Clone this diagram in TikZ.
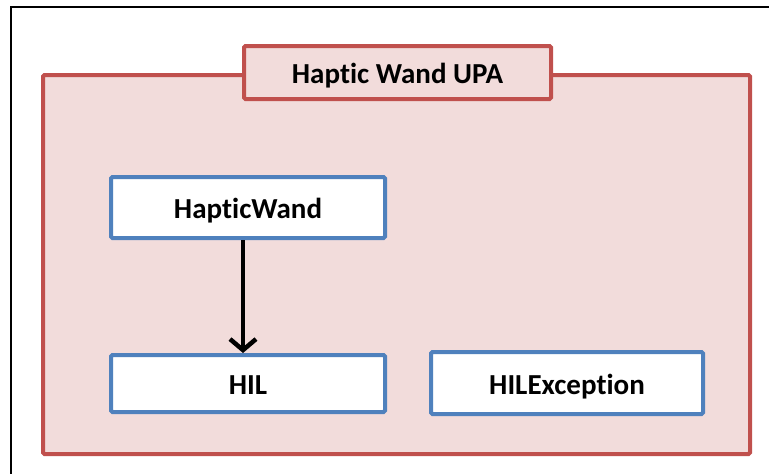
\documentclass[tikz,border=0pt]{standalone}
\usepackage{fontspec}
\setmainfont{Carlito}[Ligatures=NoCommon]
\usetikzlibrary{arrows.meta}
\definecolor{upared}{HTML}{C0504D}
\definecolor{upafill}{HTML}{F2DCDB}
\definecolor{clsblue}{HTML}{4F81BD}
\tikzset{
    upabox/.style={draw=upared, fill=upafill, line width=4pt, rounded corners=1.5pt},
    clsbox/.style={draw=clsblue, fill=white, line width=4pt, rounded corners=1.5pt,
        font=\fontsize{29}{34}\selectfont\bfseries, inner sep=0pt,
        text height=22pt, text depth=0pt}
}
\begin{document}
\begin{tikzpicture}[x=1pt, y=-1pt, >={Straight Barb[length=11pt,width=26pt]}]
    \useasboundingbox (0,0) rectangle (769,474);
    \draw[line width=2.5pt] (11,476)--(11,7)--(771,7);
    % package container
    \draw[upabox] (43,75) rectangle (750,454);
    \node[upabox, minimum width=307pt, minimum height=53pt, inner sep=0pt,
        text height=22pt, text depth=0pt,
        font=\fontsize{29}{34}\selectfont\bfseries] (title) at (397.5,72.5) {Haptic Wand UPA};
    % classes
    \node[clsbox, minimum width=274pt, minimum height=61pt] (wand) at (248,207.5) {HapticWand};
    \node[clsbox, minimum width=274pt, minimum height=57pt] (hil) at (248,383.5) {HIL};
    \node[clsbox, minimum width=272pt, minimum height=62pt] (hilexc) at (567,383) {HILException};
    \draw[->, line width=4.5pt] (wand.south -| 243,0) -- (hil.north -| 243,0);
\end{tikzpicture}
\end{document}
